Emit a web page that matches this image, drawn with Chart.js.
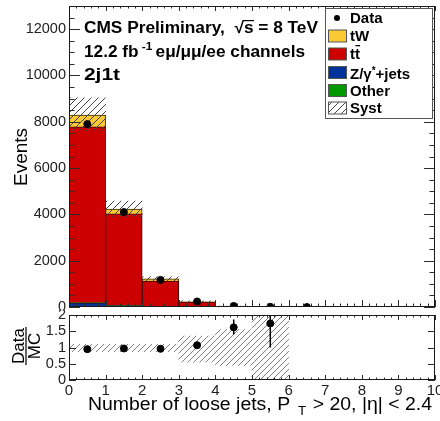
<!DOCTYPE html>
<html>
<head>
<meta charset="utf-8">
<script src="https://cdn.jsdelivr.net/npm/chart.js@4.4.0/dist/chart.umd.min.js"></script>
<style>
  html, body { margin: 0; padding: 0; background: #fff; }
  #wrap { position: relative; width: 440px; height: 421px; overflow: hidden; background: #fff; }
  #top { position: absolute; left: 0; top: 0; }
  #ratio { position: absolute; left: 0; top: 310px; background: #fff; }
</style>
</head>
<body>
<div id="wrap">
  <canvas id="top" width="440" height="312"></canvas>
  <canvas id="ratio" width="440" height="111"></canvas>
</div>
<script>
// Bin centres of the jet-multiplicity histogram (bins of width 1 from 0 to 10)
const binCenters = [0.5, 1.5, 2.5, 3.5, 4.5, 5.5];

// Stacked simulation, events per bin
const zJets  = [170, 60, 25, 5, 1, 0];
const other  = [8, 4, 2, 0.5, 0, 0];
const ttbar  = [7600, 3955, 1095, 207, 25, 4];
const tW     = [510, 210, 90, 15, 2, 0.5];

// Systematic band around the total simulation
const systLow  = [7600, 3880, 1140, 190, 20, 1];
const systHigh = [9030, 4580, 1300, 270, 38, 8];

// Observed data
const dataCenters = [0.5, 1.5, 2.5, 3.5, 4.5, 5.5, 6.5];
const dataEvents  = [7900, 4100, 1170, 240, 45, 7, 1];
const dataErr     = [89, 64, 34, 15, 7, 3, 1];

// Data / MC ratio panel
const ratio         = [0.95, 0.97, 0.96, 1.07, 1.62, 1.74];
const ratioErrLow   = [0.94, 0.95, 0.93, 1.00, 1.40, 1.00];
const ratioErrHigh  = [0.96, 0.99, 0.99, 1.14, 1.86, 2.50];
const ratioSystLow  = [0.87, 0.87, 0.87, 0.55, 0.45, 0.00];
const ratioSystHigh = [1.10, 1.10, 1.10, 1.35, 1.55, 2.00];

// Axis tick labels
const xTickLabels = ['0', '1', '2', '3', '4', '5', '6', '7', '8', '9', '10'];
const eventTickValues = [0, 2000, 4000, 6000, 8000, 10000, 12000];
const eventTickLabels = ['0', '2000', '4000', '6000', '8000', '10000', '12000'];
const ratioTickLabels = ['0', '0.5', '1', '1.5', '2'];

const FONT = '"Liberation Sans", Arial, Helvetica, sans-serif';
const font = (size, bold) => (bold ? 'bold ' : '') + size + 'px ' + FONT;
Chart.defaults.font.family = FONT;

const colors = { tW: '#fcc935', tt: '#cc0000', z: '#003399', other: '#009900' };

function hatchPattern(ctx, color, step) {
  const c = document.createElement('canvas');
  c.width = step; c.height = step;
  const g = c.getContext('2d');
  g.strokeStyle = color;
  g.lineWidth = 1;
  g.beginPath();
  g.moveTo(0, step); g.lineTo(step, 0);
  g.moveTo(-1, 1); g.lineTo(1, -1);
  g.moveTo(step - 1, step + 1); g.lineTo(step + 1, step - 1);
  g.stroke();
  return ctx.createPattern(c, 'repeat');
}

const topCtx = document.getElementById('top').getContext('2d');
const ratioCtx = document.getElementById('ratio').getContext('2d');
const hatchTop = hatchPattern(topCtx, '#444', 7);
const hatchRatio = hatchPattern(ratioCtx, '#808080', 6);

// Inward ROOT-style ticks on all four sides plus the frame
function drawFrameTicks(chart, o) {
  const { ctx, chartArea: a, scales: { x, y } } = chart;
  ctx.save();
  ctx.strokeStyle = '#2b2b2b';
  ctx.lineWidth = 1;
  ctx.beginPath();
  const nx = Math.round((x.max - x.min) / o.xMinor);
  for (let i = 0; i <= nx; i++) {
    const v = x.min + i * o.xMinor;
    const px = Math.round(x.getPixelForValue(v)) + 0.5;
    const major = (i % Math.round(o.xMajor / o.xMinor)) === 0;
    const Lb = major ? o.xLen : o.xLen / 2;
    const Lt = major ? o.xLenTop : o.xLenTop / 2;
    ctx.moveTo(px, a.bottom); ctx.lineTo(px, a.bottom - Lb);
    ctx.moveTo(px, a.top); ctx.lineTo(px, a.top + Lt);
  }
  const ny = Math.round((y.max - y.min) / o.yMinor);
  for (let i = 0; i <= ny; i++) {
    const v = y.min + i * o.yMinor;
    const py = Math.round(y.getPixelForValue(v)) + 0.5;
    const major = (i % Math.round(o.yMajor / o.yMinor)) === 0;
    const L = major ? o.yLen : o.yLen / 2;
    ctx.moveTo(a.left, py); ctx.lineTo(a.left + L, py);
    ctx.moveTo(a.right, py); ctx.lineTo(a.right - L, py);
  }
  ctx.stroke();
  ctx.strokeStyle = '#1a1a1a';
  ctx.strokeRect(a.left + 0.5, a.top + 0.5, a.width - 1, a.height - 1);
  ctx.restore();
}

// Event-axis labels placed at the scale's own pixel positions
function drawEventLabels(chart) {
  const { ctx, chartArea: a, scales: { y } } = chart;
  ctx.save();
  ctx.fillStyle = '#222';
  ctx.font = font(14.5);
  ctx.textAlign = 'right';
  ctx.textBaseline = 'middle';
  eventTickValues.forEach((v, i) => ctx.fillText(eventTickLabels[i], a.left - 3, y.getPixelForValue(v)));
  ctx.restore();
}

function drawErrorBars(chart, xs, lo, hi) {
  const { ctx, chartArea: a, scales: { x, y } } = chart;
  ctx.save();
  ctx.beginPath();
  ctx.rect(a.left, a.top, a.width, a.height);
  ctx.clip();
  ctx.strokeStyle = '#000';
  ctx.lineWidth = 1.5;
  ctx.beginPath();
  xs.forEach((v, i) => {
    const px = x.getPixelForValue(v);
    ctx.moveTo(px, y.getPixelForValue(lo[i]));
    ctx.lineTo(px, y.getPixelForValue(hi[i]));
  });
  ctx.stroke();
  ctx.restore();
}

// Text runs with sizes, offsets and gaps (super/subscripts)
function runs(ctx, x, y, parts) {
  for (const p of parts) {
    ctx.font = font(p.size, p.bold);
    ctx.fillText(p.t, x, y + (p.dy || 0));
    x += ctx.measureText(p.t).width + (p.gap || 0);
  }
  return x;
}
function runsWidth(ctx, parts) {
  let w = 0;
  for (const p of parts) { ctx.font = font(p.size, p.bold); w += ctx.measureText(p.t).width + (p.gap || 0); }
  return w;
}
// Same runs, widened horizontally to span a given width (wide Helvetica look)
function wideRuns(ctx, x, y, parts, width) {
  const k = width / runsWidth(ctx, parts);
  ctx.save();
  ctx.translate(x, y);
  ctx.scale(k, 1);
  runs(ctx, 0, 0, parts);
  ctx.restore();
}

function drawLegend(chart) {
  const ctx = chart.ctx;
  const ds = chart.data.datasets;
  const byLabel = l => ds.find(d => d.label === l);
  ctx.save();
  ctx.fillStyle = '#fff';
  ctx.fillRect(325.5, 8.5, 107, 110);
  ctx.strokeStyle = '#555';
  ctx.lineWidth = 1;
  ctx.strokeRect(325.5, 8.5, 107, 110);
  const entries = ['Data', 'tW', 'tt̄', 'Z/γ*+jets', 'Other', 'Syst'];
  const rows = [18, 36, 54, 72.5, 90.5, 108];
  const tx = 350;
  ctx.textBaseline = 'middle';
  ctx.textAlign = 'left';
  entries.forEach((label, i) => {
    const cy = rows[i];
    const d = byLabel(label);
    if (label === 'Data') {
      ctx.fillStyle = '#000';
      ctx.beginPath(); ctx.arc(337, cy, 3, 0, Math.PI * 2); ctx.fill();
    } else {
      ctx.fillStyle = label === 'Syst' ? '#fff' : d.backgroundColor;
      ctx.fillRect(328.5, cy - 6, 18, 12);
      if (label === 'Syst') { ctx.fillStyle = hatchTop; ctx.fillRect(328.5, cy - 6, 18, 12); }
      ctx.strokeStyle = '#555';
      ctx.strokeRect(328.5, cy - 6, 18, 12);
    }
    ctx.fillStyle = '#000';
    const y = cy + 1;
    if (label === 'tt̄') {
      ctx.font = font(15, true);
      const w1 = ctx.measureText('t').width;
      ctx.fillText('tt', tx, y);
      ctx.fillRect(tx + w1 + 0.5, y - 10, w1 - 0.5, 1.3);
    } else if (label === 'Z/γ*+jets') {
      ctx.textBaseline = 'alphabetic';
      runs(ctx, tx, y + 5, [
        { t: 'Z/γ', size: 15, bold: true },
        { t: '*', size: 10, bold: true, dy: -5 },
        { t: '+jets', size: 15, bold: true }
      ]);
      ctx.textBaseline = 'middle';
    } else {
      ctx.font = font(15, true);
      ctx.fillText(label, tx, y);
    }
  });
  ctx.restore();
}

function drawTopText(chart) {
  const ctx = chart.ctx;
  ctx.save();
  ctx.fillStyle = '#000';
  ctx.textAlign = 'left';
  ctx.textBaseline = 'alphabetic';
  // CMS label with centre-of-mass energy
  const line1 = [
    { t: 'CMS Preliminary,  ', size: 16, bold: true },
    { t: '√', size: 16, bold: true },
    { t: 's', size: 16, bold: true },
    { t: ' = 8 TeV', size: 16, bold: true }
  ];
  const k1 = 234 / runsWidth(ctx, line1);
  wideRuns(ctx, 84, 33, line1, 234);
  ctx.font = font(16, true);
  const xs = 84 + k1 * (runsWidth(ctx, line1.slice(0, 2)));
  const sw = k1 * ctx.measureText('s').width;
  ctx.fillRect(xs - 1, 33 - 13, sw + 1.5, 1.2);
  // luminosity and channels
  wideRuns(ctx, 84, 57, [
    { t: '12.2 fb', size: 16, bold: true, gap: 3 },
    { t: '-1', size: 11, bold: true, dy: -7, gap: 3 },
    { t: 'eμ/μμ/ee channels', size: 16, bold: true }
  ], 221);
  wideRuns(ctx, 84, 80, [{ t: '2j1t', size: 16, bold: true }], 36);
  // y-axis title
  ctx.translate(22, 157);
  ctx.rotate(-Math.PI / 2);
  ctx.textAlign = 'center';
  ctx.textBaseline = 'middle';
  ctx.font = font(19);
  ctx.fillText('Events', 0, 0);
  ctx.restore();
}

const topPlugin = {
  id: 'topDecor',
  afterDatasetsDraw(chart) {
    drawErrorBars(chart, dataCenters,
      dataEvents.map((v, i) => v - dataErr[i]),
      dataEvents.map((v, i) => v + dataErr[i]));
  },
  afterDraw(chart) {
    drawFrameTicks(chart, { xMinor: 0.2, xMajor: 1, xLen: 7, xLenTop: 5, yMinor: 500, yMajor: 2000, yLen: 11 });
    drawEventLabels(chart);
    drawTopText(chart);
    drawLegend(chart);
  }
};

const bins = arr => binCenters.map((x, i) => ({ x, y: arr[i] }));

new Chart(topCtx, {
  type: 'bar',
  data: {
    datasets: [
      { type: 'scatter', label: 'Data', data: dataCenters.map((x, i) => ({ x, y: dataEvents[i] })),
        backgroundColor: '#000', borderColor: '#000', pointRadius: 3.5, order: 0, stack: 'data' },
      { label: 'Syst', data: binCenters.map((x, i) => ({ x, y: [systLow[i], systHigh[i]] })),
        backgroundColor: hatchTop, borderWidth: 0, grouped: false, stack: 'syst', order: 1 },
      { label: 'Z/γ*+jets', data: bins(zJets), backgroundColor: colors.z, borderColor: '#1a1a40', borderWidth: 1, stack: 'mc', order: 2 },
      { label: 'Other', data: bins(other), backgroundColor: colors.other, borderWidth: 0, stack: 'mc', order: 3 },
      { label: 'tt̄', data: bins(ttbar), backgroundColor: colors.tt, borderColor: '#3a0000', borderWidth: 1, stack: 'mc', order: 4 },
      { label: 'tW', data: bins(tW), backgroundColor: colors.tW, borderColor: '#3a2a00', borderWidth: 1, stack: 'mc', order: 5 }
    ]
  },
  options: {
    responsive: false,
    animation: false,
    devicePixelRatio: 1,
    layout: { padding: { left: 0, right: 4, top: 6, bottom: 3 } },
    plugins: { legend: { display: false }, tooltip: { enabled: false } },
    datasets: { bar: { barPercentage: 1, categoryPercentage: 1 } },
    scales: {
      x: { type: 'linear', min: 0, max: 10, offset: false, display: false, ticks: { stepSize: 1 } },
      y: {
        min: 0, max: 13000, stacked: true,
        grid: { display: false, drawTicks: false },
        border: { display: false },
        ticks: { display: false, stepSize: 2000, includeBounds: false },
        afterFit(s) { s.width = 69; s.paddingTop = 0; s.paddingBottom = 0; }
      }
    }
  },
  plugins: [topPlugin]
});

const ratioPlugin = {
  id: 'ratioDecor',
  afterDatasetsDraw(chart) {
    drawErrorBars(chart, binCenters, ratioErrLow, ratioErrHigh);
  },
  afterDraw(chart) {
    drawFrameTicks(chart, { xMinor: 0.2, xMajor: 1, xLen: 5, xLenTop: 5, yMinor: 0.5, yMajor: 0.5, yLen: 7 });
    const ctx = chart.ctx;
    ctx.save();
    ctx.fillStyle = '#000';
    // Data / MC fraction as the y-axis title
    ctx.save();
    ctx.translate(26, 36);
    ctx.rotate(-Math.PI / 2);
    ctx.textAlign = 'center';
    ctx.textBaseline = 'alphabetic';
    ctx.font = font(17);
    ctx.fillText('Data', 0, -2);
    ctx.fillText('MC', 0, 14);
    ctx.fillRect(-19, -0.6, 38, 1.2);
    ctx.restore();
    // x-axis title, right aligned
    ctx.textAlign = 'left';
    ctx.textBaseline = 'alphabetic';
    wideRuns(ctx, 88, 100, [
      { t: 'Number of loose jets, P', size: 17.5, gap: 7 },
      { t: 'T', size: 12, dy: 5, gap: 6 },
      { t: '> 20, |η| < 2.4', size: 17.5 }
    ], 344);
    ctx.restore();
  }
};

new Chart(ratioCtx, {
  type: 'bar',
  data: {
    datasets: [
      { type: 'scatter', label: 'Data/MC', data: binCenters.map((x, i) => ({ x, y: ratio[i] })),
        backgroundColor: '#000', borderColor: '#000', pointRadius: 3.5, order: 0 },
      { label: 'Syst', data: binCenters.map((x, i) => ({ x, y: [ratioSystLow[i], ratioSystHigh[i]] })),
        backgroundColor: hatchRatio, borderWidth: 0, order: 1 }
    ]
  },
  options: {
    responsive: false,
    animation: false,
    devicePixelRatio: 1,
    layout: { padding: { left: 0, right: 4, top: 3, bottom: 0 } },
    plugins: { legend: { display: false }, tooltip: { enabled: false } },
    datasets: { bar: { barPercentage: 1, categoryPercentage: 1 } },
    scales: {
      x: {
        type: 'linear', min: 0, max: 10, offset: false,
        grid: { display: false, drawTicks: false },
        border: { display: false },
        ticks: {
          stepSize: 1, autoSkip: false, maxRotation: 0, padding: 2, color: '#222',
          font: { size: 15 },
          callback: v => xTickLabels[Math.round(v)] ?? ''
        },
        afterFit(s) { s.height = 41; s.paddingLeft = 0; s.paddingRight = 0; }
      },
      y: {
        min: 0, max: 2,
        grid: { display: false, drawTicks: false },
        border: { display: false },
        ticks: {
          stepSize: 0.5, autoSkip: false, padding: 3, color: '#222',
          font: { size: 14.5 },
          callback: v => ratioTickLabels[Math.round(v * 2)] ?? ''
        },
        afterFit(s) { s.width = 69; s.paddingTop = 0; s.paddingBottom = 0; }
      }
    }
  },
  plugins: [ratioPlugin]
});
</script>
</body>
</html>
